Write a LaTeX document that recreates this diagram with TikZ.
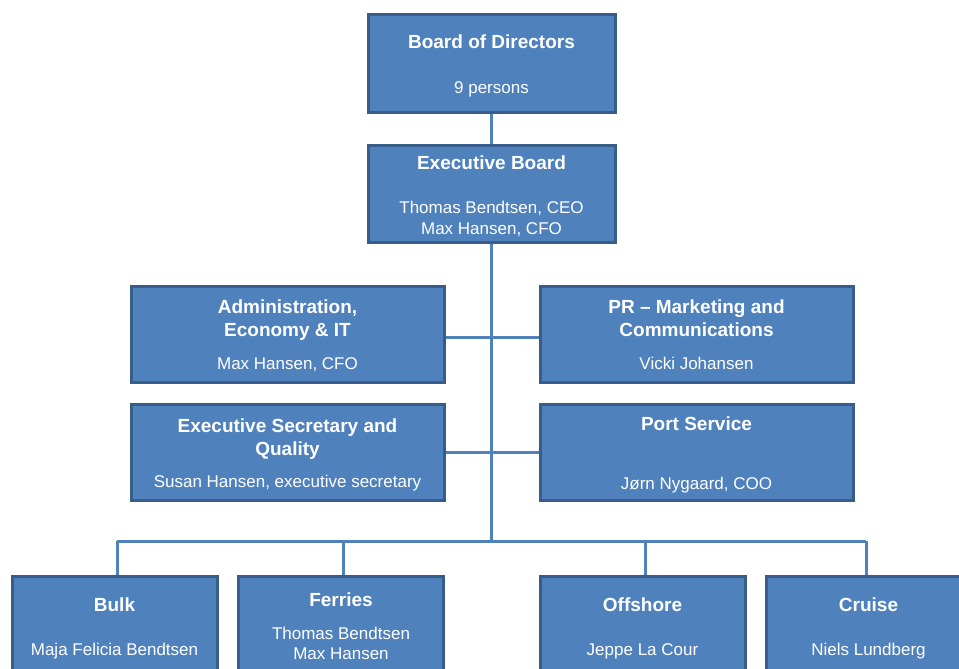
\documentclass[tikz,border=0pt]{standalone}
\usepackage{fontspec}
\setmainfont{Liberation Sans}
\definecolor{boxfill}{HTML}{4F81BD}
\definecolor{boxline}{HTML}{385D8A}
\begin{document}
\begin{tikzpicture}[x=1pt,y=-1pt,
  box/.style={draw=boxline, fill=boxfill, line width=3pt, inner sep=0pt},
  wide/.style={box, minimum width=247pt, minimum height=97pt},
  mid/.style={box, minimum width=313pt, minimum height=96pt},
  low/.style={box, minimum width=205pt, minimum height=130pt},
  ttl/.style={text=white, font=\fontsize{19}{22}\selectfont\bfseries, inner sep=0pt, anchor=base},
  nm/.style={text=white, font=\fontsize{17}{21}\selectfont, inner sep=0pt, anchor=base},
  link/.style={draw=boxfill, line width=3pt}]
\useasboundingbox (0,0) rectangle (959,669);
\clip (0,0) rectangle (959,669);
\fill[white] (0,0) rectangle (959,669);

% junction points
\coordinate (j) at (491.5,541);
\coordinate (bl) at (117,541);
\coordinate (bf) at (343,541);
\coordinate (bo) at (645,541);
\coordinate (bc) at (866,541);

% boxes
\node[wide] (bod) at (491.5,63.5) {};
\node[wide] (eb) at (491.5,193.5) {};
\node[mid] (adm) at (287.5,334) {};
\node[mid] (pr) at (696.5,334) {};
\node[mid] (sec) at (287.5,452.5) {};
\node[mid] (port) at (696.5,452.5) {};
\node[low] (bulk) at (114.5,641) {};
\node[low] (fer) at (341,641) {};
\node[low] (off) at (642.5,641) {};
\node[low] (cru) at (868.5,641) {};

% connectors
\draw[link] (bod.south) -- (eb.north);
\draw[link] (eb.south) -- (j);
\draw[link] (bl) -- (bc);
\draw[link] (bl) -- (bl |- bulk.north);
\draw[link] (bf) -- (bf |- fer.north);
\draw[link] (bo) -- (bo |- off.north);
\draw[link] (bc) -- (bc |- cru.north);
\draw[link] ([yshift=-3pt]adm.east) -- ([yshift=-3pt]pr.west);
\draw[link] (sec.east) -- (port.west);

% texts
\node[ttl] (bodT) at (491.5,49) {Board of Directors};
\node[nm] (bodN) at (491.5,93) {9 persons};

\node[ttl] (ebT) at (491.5,169) {Executive Board};
\node[nm] (ebN1) at (491.5,213) {Thomas Bendtsen, CEO};
\node[nm] (ebN2) at (491.5,234) {Max Hansen, CFO};

\node[ttl] (admT1) at (287.5,313) {Administration,};
\node[ttl] (admT2) at (287.5,336) {Economy \& IT};
\node[nm] (admN) at (287.5,369) {Max Hansen, CFO};

\node[ttl] (prT1) at (696.5,313) {PR -- Marketing and};
\node[ttl] (prT2) at (696.5,336) {Communications};
\node[nm] (prN) at (696.5,369) {Vicki Johansen};

\node[ttl] (secT1) at (287.5,432) {Executive Secretary and};
\node[ttl] (secT2) at (287.5,455) {Quality};
\node[nm] (secN) at (287.5,487) {Susan Hansen, executive secretary};

\node[ttl] (portT) at (696.5,430) {Port Service};
\node[nm] (portN) at (696.5,489) {Jørn Nygaard, COO};

\node[ttl] (bulkT) at (114.5,611) {Bulk};
\node[nm] (bulkN) at (114.5,655) {Maja Felicia Bendtsen};

\node[ttl] (ferT) at (341,606) {Ferries};
\node[nm] (ferN1) at (341,639) {Thomas Bendtsen};
\node[nm] (ferN2) at (341,659) {Max Hansen};

\node[ttl] (offT) at (642.5,611) {Offshore};
\node[nm] (offN) at (642.5,655) {Jeppe La Cour};

\node[ttl] (cruT) at (868.5,611) {Cruise};
\node[nm] (cruN) at (868.5,655) {Niels Lundberg};
\end{tikzpicture}
\end{document}
